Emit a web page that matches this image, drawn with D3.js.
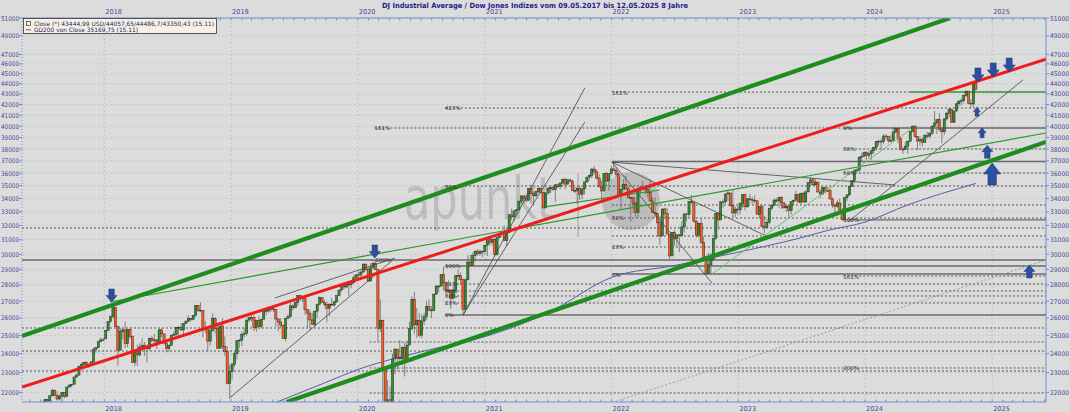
<!DOCTYPE html>
<html><head><meta charset="utf-8">
<script src="https://cdn.jsdelivr.net/npm/d3@7"></script>
<style>body{margin:0;background:#dcdcdc;}svg{display:block;}</style>
</head><body><svg id="c" width="1070" height="412"></svg>
<script>
// ---------------- DATA ----------------
const titleText = "DJ Industrial Average / Dow Jones Indizes vom 09.05.2017 bis 12.05.2025 8 Jahre";
const legendClose = "Close (*) 43444,99 USD/44057,65/44486,7/43350,43 (15.11)";
const legendGD = "GD200 von Close 35169,75 (15.11)";
const firstWeek = "2017-05-12";
const weekClose = [
20897,20804,21080,21206,21272,21384,21395,21350,21414,21638,21580,21830,22092,21858,21675,21814,21988,21798,22268,22350,22405,22773,22871,23329,23434,23539,23422,23358,23558,24231,24329,24652,24754,24719,
25296,25803,26072,26617,25521,24191,25219,25310,24538,25336,24947,23533,24103,23933,24360,24463,24311,24263,24831,24715,24753,24635,25317,25090,24581,24271,24456,25019,25058,25451,25463,25313,25669,25790,25965,25917,26155,26744,26458,26447,25340,25444,24688,25271,25989,25413,24285,25538,24389,24101,22445,23062,
23433,23996,24706,24737,25064,25106,25883,26031,26026,25450,25849,25502,25929,26425,26412,26560,26543,26505,25942,25764,25586,24815,25984,26090,26719,26600,26922,27332,27154,27192,26485,26287,25886,25629,26403,26797,27220,26935,26820,26573,26817,26770,26958,27347,27681,28005,27876,28051,28015,28135,28455,28645,
28635,28824,29348,28990,28256,29103,29398,28992,25409,25865,23186,19174,21637,21053,23719,24242,23775,23724,24331,23685,24465,25383,27111,25605,25871,25016,25827,26075,26672,26470,26428,27433,27931,27930,28654,28133,27666,27657,27174,27683,28587,28606,28336,26502,28323,29480,29263,29910,30218,30046,30179,30200,30606,
31098,30814,30997,29983,31148,31458,31494,30932,31496,32779,32628,33073,33153,33800,34201,34043,33875,34778,34382,34208,34529,34756,34480,33290,34434,34786,34870,34688,35062,34935,35209,35515,35120,35456,35369,34608,34585,34798,34326,34746,35295,35677,35820,36328,36100,35602,34899,34580,35971,35365,35951,36338,
36232,35912,34265,34725,35089,34738,34079,34059,33615,32945,34755,34862,34818,34721,34451,33811,32977,32899,32197,31262,33213,32900,31393,29888,31501,31097,31338,31288,31899,32845,32803,33761,33707,32283,31318,32152,30822,29590,28726,29297,29635,31083,32862,32403,33748,33746,34347,34430,33477,32920,33204,33147,
33631,34303,33375,33978,33926,33870,33827,32817,33391,31910,31862,32238,33274,33485,33886,33809,34098,33674,33301,33427,33093,33763,33877,34299,33727,34408,33735,34509,35228,35460,35066,35281,34501,34347,34838,34577,34618,33964,33508,33408,33670,33127,32418,34061,34283,34947,35390,36246,36248,37306,37385,37690,
37466,37593,37864,38109,38654,38672,38628,39131,39087,38723,38715,39476,39807,38904,37983,37986,38240,38676,39513,40004,39070,38686,38799,38589,39150,39119,39376,40001,40288,40590,39737,39498,40660,41175,41563,40345,41394,42063,42313,42353,42864,43276,42114,42052,43989,43445];
const weekOpen = [
21010,20897,20804,21080,21206,21272,21384,21395,21350,21414,21638,21580,21830,22092,21858,21675,21814,21988,21798,22268,22350,22405,22773,22871,23329,23434,23539,23422,23358,23558,24231,24329,24652,24754,
24809,25296,25803,26072,26617,25521,24191,25219,25310,24538,25336,24947,23533,24103,23933,24360,24463,24311,24263,24831,24715,24753,24635,25317,25090,24581,24271,24456,25019,25058,25451,25463,25313,25669,25790,25965,25917,26155,26744,26458,26447,25340,25444,24688,25271,25989,25413,24285,25538,24389,24101,22445,
23062,23433,23996,24706,24737,25064,25106,25883,26031,26026,25450,25849,25502,25929,26425,26412,26560,26543,26505,25942,25764,25586,24815,25984,26090,26719,26600,26922,27332,27154,27192,26485,26287,25886,25629,26403,26797,27220,26935,26820,26573,26817,26770,26958,27347,27681,28005,27876,28051,28015,28135,28455,
28645,28635,28824,29348,28990,28256,29103,29398,28992,25409,25865,23186,19174,21637,21053,23719,24242,23775,23724,24331,23685,24465,25383,27111,25605,25871,25016,25827,26075,26672,26470,26428,27433,27931,27930,28654,28133,27666,27657,27174,27683,28587,28606,28336,26502,28323,29480,29263,29910,30218,30046,30179,30200,
30606,31098,30814,30997,29983,31148,31458,31494,30932,31496,32779,32628,33073,33153,33800,34201,34043,33875,34778,34382,34208,34529,34756,34480,33290,34434,34786,34870,34688,35062,34935,35209,35515,35120,35456,35369,34608,34585,34798,34326,34746,35295,35677,35820,36328,36100,35602,34899,34580,35971,35365,35951,
36338,36232,35912,34265,34725,35089,34738,34079,34059,33615,32945,34755,34862,34818,34721,34451,33811,32977,32899,32197,31262,33213,32900,31393,29888,31501,31097,31338,31288,31899,32845,32803,33761,33707,32283,31318,32152,30822,29590,28726,29297,29635,31083,32862,32403,33748,33746,34347,34430,33477,32920,33204,
33147,33631,34303,33375,33978,33926,33870,33827,32817,33391,31910,31862,32238,33274,33485,33886,33809,34098,33674,33301,33427,33093,33763,33877,34299,33727,34408,33735,34509,35228,35460,35066,35281,34501,34347,34838,34577,34618,33964,33508,33408,33670,33127,32418,34061,34283,34947,35390,36246,36248,37306,37385,
37690,37466,37593,37864,38109,38654,38672,38628,39131,39087,38723,38715,39476,39807,38904,37983,37986,38240,38676,39513,40004,39070,38686,38799,38589,39150,39119,39376,40001,40288,40590,39737,39498,40660,41175,41563,40345,41394,42063,42313,42353,42864,43276,42114,42052,44058];
const weekHigh = [
21050,20990,21112,21225,21305,21392,21535,21500,21560,21681,21681,21860,22180,22180,22070,21900,22010,22000,22270,22420,22420,22790,22920,23370,23490,23560,23600,23500,23600,24330,24350,24690,24880,24870,
25300,25810,26150,26620,26620,25520,25430,25430,25800,25350,25450,25000,24250,24500,24570,24860,24630,24500,24880,24960,25090,24790,25400,25400,25110,24650,24500,25030,25220,25500,25520,25700,25700,25880,26170,26000,26180,26770,26770,26950,26470,25800,25450,25500,26280,26050,25500,25540,25980,24950,24400,23400,
23500,24100,24750,24800,25250,25450,25900,26050,26240,26150,25900,26110,25950,26430,26480,26700,26700,26700,26500,26000,26000,25600,26000,26200,26900,26800,26970,27340,27400,27200,27300,26500,26500,26300,26400,26860,27300,27250,27100,26950,26900,27200,27000,27350,27700,28020,28100,28170,28120,28300,28600,28700,
28870,28990,29370,29370,29130,29400,29560,29570,29000,27100,25900,23200,22600,22300,24000,24300,24250,24760,24400,24600,24700,25800,27300,27580,26600,26300,26200,26300,27000,27100,26700,27450,28000,28000,28660,29200,28200,28300,27700,28000,28600,29000,28800,28400,28400,29930,29950,30120,30220,30320,30330,30250,30640,
31200,31200,31270,31100,31200,31480,31650,32000,31800,32850,33230,33100,33200,33850,34260,34260,34250,34810,35090,34550,34630,34850,34850,34500,34470,34800,34900,35000,35100,35170,35250,35530,35630,35500,35560,35450,34900,34900,35000,34800,35300,35700,35900,36430,36570,36300,35900,35400,36000,36100,35970,36600,
36950,36500,36100,34700,35500,35800,34990,34100,34100,33800,34800,35000,35370,34900,34800,35500,34100,34100,32900,32700,33220,33300,33300,31400,31550,31700,31400,31400,32300,32900,32900,33800,34280,33700,32400,32200,32500,31200,29900,30100,30100,31100,32900,33000,33800,33950,34400,34600,34450,34700,33400,33400,
33700,34350,34350,34000,34350,34150,34250,33900,33400,33600,32700,32500,33300,33600,34000,34000,34100,34200,33700,33600,33500,33800,33900,34600,34300,34450,34500,34650,35300,35680,35600,35500,35300,34700,34900,34900,34900,34800,34100,33600,33900,34000,33300,34100,34300,35000,35400,36300,36300,37400,37650,37800,
37800,37800,37900,38200,38700,38800,38900,39280,39300,39100,39200,39900,39900,39900,39100,38200,38600,38700,39550,40080,40100,39100,39100,39000,39300,39500,39500,40100,41380,40600,41200,39800,40700,41300,41600,41600,41400,42150,42400,42600,42900,43330,43300,42500,44000,44487];
const weekLow = [
20880,20550,20800,20970,21110,21160,21330,21200,21320,21350,21530,21560,21800,21820,21600,21600,21600,21700,21800,22220,22250,22400,22740,22850,23200,23340,23250,23240,23350,23520,24050,24300,24650,24690,
24800,25230,25720,25950,25500,23360,24190,24800,24300,24340,24820,23510,23340,23340,23840,24320,23890,23530,24160,24600,24450,24250,24630,24900,24500,24080,24100,24440,24980,24940,25010,25250,25070,25640,25780,25800,25860,26060,26350,26350,24900,25150,24120,24450,25200,25100,24270,24280,24240,23880,22400,21710,
22640,23300,23700,24300,24400,24900,25000,25750,25800,25250,25200,25500,25400,25950,26150,26300,26350,26350,25500,25220,25400,24800,24680,25950,26000,26450,26650,26700,27000,26950,26200,25440,25340,25600,25500,26000,26800,26900,26700,25740,26100,26700,26650,26900,27300,27600,27700,27800,27320,27800,28100,28400,
28400,28400,28800,28900,28200,28200,29000,28960,24680,25200,21150,19000,18210,20700,21000,22900,23100,23600,23400,22800,23700,24500,25300,25100,24850,24900,24850,25600,25900,26400,26000,26400,27400,27550,27900,27650,27400,27500,26540,27100,27500,28300,28000,26140,26500,28400,29200,29300,29500,29900,29900,29800,30000,
29880,30600,30600,29850,29900,31100,31200,30900,30550,31450,32400,32300,32800,33150,33600,33600,33700,33800,33600,33470,34100,34400,34400,33270,33270,34300,34400,34600,33740,34800,34700,35100,34700,35100,35200,34600,34400,33600,33900,33950,34300,35200,35400,35600,35900,35500,34900,33900,34800,35000,34600,35900,
36200,35700,34200,33150,34700,34700,34000,32270,32900,32630,32600,34300,34600,34300,34100,33800,32900,32600,31230,30640,31250,32600,31390,29650,29900,30600,30550,30150,31200,31500,32300,32600,33600,32200,31150,31150,30700,29500,28700,28700,28660,29700,31000,31700,32400,33300,33600,33800,33400,32600,32600,32800,
32800,33300,33100,33300,33600,33600,33650,32800,32500,31900,31430,31800,32100,33100,33400,33700,33300,33200,33200,33000,32600,32800,33500,33800,33700,33600,33700,33700,34500,35000,35000,35000,34500,34000,34300,34400,34500,33950,33300,32850,33300,33100,32330,32400,33800,34200,34900,35200,36000,36100,37000,37300,
37100,37200,37100,37600,37900,38300,37950,38400,38800,38500,38600,38700,39400,38500,37900,37600,37900,37600,38600,39500,39000,37900,38300,38200,38500,38900,38900,39200,39900,39300,39600,38500,39200,40500,40800,40300,40300,41300,41800,41900,42100,42700,42000,41700,41800,43350];
const gd200Dates = ["2019-05-06","2019-10-01","2020-01-06","2020-07-01","2021-01-04","2021-07-01","2022-01-03","2022-07-01","2023-01-02","2023-07-03","2023-09-15","2024-01-01","2024-05-01","2024-11-15"];
const gd200Values = [21480,22500,23190,24100,24950,26300,28500,29250,30150,31150,31650,32250,33500,35170];
const yearLabels = ["2018","2019","2020","2021","2022","2023","2024","2025"];
const priceTicks = [22000,23000,24000,25000,26000,27000,28000,29000,30000,31000,32000,33000,34000,35000,36000,37000,38000,39000,40000,41000,42000,43000,44000,45000,46000,47000,49000,51000];
// horizontal levels: value, from, to, kind
const levelValue = [43190,43190,41667,39837,39837,38005,36950,36009,34971,33511,32547,32403,31823,31257,30495,29617,29221,28700,28570,28064,27626,27317,26891,26176,25423,24635,24142,23239,23082,21969];
const levelFrom  = ["2022-01-02","2024-05-09","2020-09-08","2020-02-18","2023-10-30","2023-10-30","2022-01-02","2023-10-30","2020-09-08","2022-01-02","2022-01-02","2023-10-30","2017-05-09","2022-01-02","2022-01-02","2017-05-09","2020-09-08","2022-01-02","2023-10-30","2020-09-08","2020-09-08","2020-09-08","2020-09-08","2020-09-08","2017-05-09","2020-02-04","2017-05-09","2020-02-04","2017-05-09","2020-02-04"];
const levelTo    = ["2024-05-09","2025-06-05","2025-06-05","2023-10-30","2025-06-05","2025-06-05","2025-06-05","2025-06-05","2025-06-05","2025-06-05","2025-06-05","2025-06-05","2025-06-05","2025-06-05","2025-06-05","2025-06-05","2025-06-05","2025-06-05","2025-06-05","2025-06-05","2025-06-05","2025-06-05","2025-06-05","2025-06-05","2025-06-05","2025-06-05","2025-06-05","2025-06-05","2025-06-05","2025-06-05"];
const levelKind  = ["dot","green","dot","dot","solid","dot","solid","dot","dot","dot","dot","solid","dot","dot","dot","solid","solid","solid","dot","dot","dot","dot","dot","solid","dot","dot","dot","dot","dot","dot"];
// trend lines
const trendFromDate = ["2017-05-09","2019-06-10","2017-05-09","2018-01-17","2021-06-23","2022-10-17","2022-01-02","2018-12-28","2019-05-07","2020-10-30","2020-10-30","2022-01-02","2022-01-02","2022-01-02","2023-11-13"];
const trendFromVal  = [24970,21530,22268,26951,33363,28700,21500,21724,27195,26176,26176,36896,36896,36896,32256];
const trendToDate   = ["2024-09-02","2025-06-05","2025-06-05","2025-06-05","2022-05-20","2024-05-09","2025-06-05","2020-04-11","2020-04-17","2021-10-16","2021-10-16","2023-03-28","2022-10-17","2024-03-28","2025-03-31"];
const trendToVal    = [51000,38614,46503,39393,34659,39667,29617,29617,29750,43600,40384,31186,28127,35049,44388];
const trendKind     = ["thickGreen","thickGreen","red","green","green","lightGreen","dottedGreen","grey","grey","grey","grey","grey","grey","grey","grey"];
// percent labels
const pctText  = ["161%","423%","161%","0%","38%","50%","38%","50%","100%","23%","100%","100%","0%","161%","61%","50%","38%","23%","0%","200%"];
const pctDate  = ["2022-01-02","2020-09-08","2020-02-18","2023-10-30","2023-10-30","2023-10-30","2020-09-08","2022-01-02","2023-10-30","2022-01-02","2020-02-20","2020-09-08","2022-01-02","2023-10-30","2020-09-08","2020-09-08","2020-09-08","2020-09-08","2020-09-08","2023-10-30"];
const pctValue = [43190,41667,39837,39837,38005,36009,34971,32547,32403,30495,29617,29221,28700,28570,28064,27626,27317,26891,26176,23239];
// arrows
const arrowDate  = ["2018-01-22","2020-02-19","2024-11-21","2025-01-04","2025-02-19","2024-11-18","2024-12-03","2024-12-18","2025-01-01","2025-04-18"];
const arrowValue = [26951,29750,44178,44675,45177,41742,39850,38321,36825,29288];
const arrowDir   = ["down","down","down","down","down","up","up","up","up","up"];

// ---------------- STYLE ----------------
const arrowSize = [[11,13],[11,13],[12,14],[12,14],[12,14],[7,9],[8,10],[11,13],[17,22],[11,13]];
const L=22,R=1046,T=18,B=402;
const axisBlue="#6f8fd2", labelBlue="#4a4a9c";
const parse=d3.utcParse("%Y-%m-%d");
const x=d3.scaleUtc().domain([parse("2017-05-09"),parse("2025-06-05")]).range([L,R]);
const y=d3.scaleLog().domain([21530,51000]).range([B,T]);
const svg=d3.select("#c");
svg.append("rect").attr("width",1070).attr("height",412).attr("fill","#dcdcdc");
svg.append("defs").append("clipPath").attr("id","pc").append("rect").attr("x",L).attr("y",T).attr("width",R-L).attr("height",B-T);

// grid
const grid=svg.append("g");
grid.selectAll("line.h").data(priceTicks).join("line").attr("x1",L).attr("x2",R)
 .attr("y1",d=>y(d)).attr("y2",d=>y(d)).attr("stroke","#c3c3c3").attr("stroke-dasharray","2,2").attr("stroke-width",0.8);
grid.selectAll("line.v").data(yearLabels).join("line").attr("y1",T).attr("y2",B)
 .attr("x1",d=>x(parse(d+"-01-01"))).attr("x2",d=>x(parse(d+"-01-01"))).attr("stroke","#bdbdbd").attr("stroke-dasharray","2,2").attr("stroke-width",0.8);

const plot=svg.append("g").attr("clip-path","url(#pc)");

// watermark
const wm=plot.append("g").attr("opacity",0.3).attr("fill","#777");
wm.append("text").attr("x",404).attr("y",219).attr("font-family","DejaVu Sans").attr("font-size",58)
  .attr("textLength",150).attr("lengthAdjust","spacingAndGlyphs").text("apunkt");
wm.append("rect").attr("x",577).attr("y",173).attr("width",2).attr("height",64);
wm.append("circle").attr("cx",631).attr("cy",201).attr("r",29);

// levels
const lv=plot.append("g");
levelValue.forEach((v,i)=>{
  const k=levelKind[i];
  lv.append("line").attr("x1",x(parse(levelFrom[i]))).attr("x2",x(parse(levelTo[i])))
   .attr("y1",y(v)).attr("y2",y(v))
   .attr("stroke",k==="green"?"#2f9a2f":(k==="solid"?"#6a6a6a":"#555"))
   .attr("stroke-width",k==="dot"?1:1.3)
   .attr("stroke-dasharray",k==="dot"?"2,2":null);
});

// GD200
plot.append("path").datum(gd200Dates.map((d,i)=>[parse(d),gd200Values[i]]))
 .attr("d",d3.line().x(d=>x(d[0])).y(d=>y(d[1])).curve(d3.curveMonotoneX))
 .attr("fill","none").attr("stroke","#5a5aa8").attr("stroke-width",1);

// candles
const start=parse(firstWeek);
const cg=plot.append("g");
weekClose.forEach((c,i)=>{
  const cx=x(d3.utcDay.offset(start,7*i));
  const o=weekOpen[i];
  cg.append("line").attr("x1",cx).attr("x2",cx).attr("y1",y(weekHigh[i])).attr("y2",y(weekLow[i]))
    .attr("stroke","#6a6a6a").attr("stroke-width",0.8);
  const y0=y(Math.max(o,c)), y1=y(Math.min(o,c));
  cg.append("rect").attr("x",cx-1.1).attr("y",y0).attr("width",2.2).attr("height",Math.max(0.8,y1-y0))
    .attr("fill",c>=o?"#2f8f2f":"#ff5a1f").attr("stroke","#222").attr("stroke-width",0.45);
});

// trend lines
const tStyle={thickGreen:["#1e8c1e",4.2,null],red:["#ee1c1c",3,null],green:["#2a9a2a",1.2,null],
  lightGreen:["#6cbf6c",1,null],dottedGreen:["#6cbf6c",1,"2,2"],grey:["#444",0.8,null]};
const order=["grey","green","lightGreen","dottedGreen","red","thickGreen"];
order.forEach(kind=>{
  trendKind.forEach((k,i)=>{
    if(k!==kind)return;
    const s=tStyle[k];
    plot.append("line").attr("x1",x(parse(trendFromDate[i]))).attr("y1",y(trendFromVal[i]))
      .attr("x2",x(parse(trendToDate[i]))).attr("y2",y(trendToVal[i]))
      .attr("stroke",s[0]).attr("stroke-width",s[1]).attr("stroke-dasharray",s[2]);
  });
});

// percent labels
pctText.forEach((t,i)=>{
  plot.append("text").attr("x",x(parse(pctDate[i]))).attr("y",y(pctValue[i])+2.5)
    .attr("font-family","DejaVu Sans").attr("font-size",5.5).attr("fill","#333").text(t);
});

// arrows
arrowDate.forEach((d,i)=>{
  const cx=x(parse(d)), ty=y(arrowValue[i]);
  const [w,h]=arrowSize[i]; const hh=h*0.5, sw=w*0.5;
  const s=arrowDir[i]==="down"?-1:1;
  const pts=[[cx,ty],[cx+w/2,ty+s*hh],[cx+sw/2,ty+s*hh],[cx+sw/2,ty+s*h],[cx-sw/2,ty+s*h],[cx-sw/2,ty+s*hh],[cx-w/2,ty+s*hh]];
  svg.append("polygon").attr("points",pts.map(p=>p.join(",")).join(" "))
    .attr("fill","#2c4f9e").attr("stroke","#1c3577").attr("stroke-width",0.5);
});

// axes
const ax=svg.append("g");
ax.append("line").attr("x1",L).attr("x2",R).attr("y1",T).attr("y2",T).attr("stroke",axisBlue);
ax.append("line").attr("x1",L).attr("x2",R).attr("y1",B).attr("y2",B).attr("stroke",axisBlue);
ax.append("line").attr("x1",R).attr("x2",R).attr("y1",T).attr("y2",B).attr("stroke",axisBlue);
ax.append("line").attr("x1",L).attr("x2",L).attr("y1",T).attr("y2",B).attr("stroke",axisBlue).attr("stroke-dasharray","1,2");
const months=d3.utcMonth.range(parse("2017-06-01"),parse("2025-06-05"));
ax.selectAll("line.mt").data(months).join("line").attr("x1",d=>x(d)).attr("x2",d=>x(d))
  .attr("y1",T).attr("y2",T+2.5).attr("stroke",axisBlue);
ax.selectAll("line.mb").data(months).join("line").attr("x1",d=>x(d)).attr("x2",d=>x(d))
  .attr("y1",B).attr("y2",B-2.5).attr("stroke",axisBlue);
priceTicks.forEach(v=>{
  ax.append("line").attr("x1",R).attr("x2",R+3).attr("y1",y(v)).attr("y2",y(v)).attr("stroke",axisBlue);
  ax.append("line").attr("x1",L-3).attr("x2",L).attr("y1",y(v)).attr("y2",y(v)).attr("stroke",axisBlue);
  ax.append("text").attr("x",R+4).attr("y",y(v)+2.5).attr("font-family","DejaVu Sans").attr("font-size",6.4)
    .attr("textLength",19).attr("lengthAdjust","spacingAndGlyphs").attr("fill",labelBlue).text(v);
  ax.append("text").attr("x",1).attr("y",y(v)+2.5).attr("font-family","DejaVu Sans").attr("font-size",6.4)
    .attr("textLength",18).attr("lengthAdjust","spacingAndGlyphs").attr("fill",labelBlue).text(v);
});
yearLabels.forEach(yr=>{
  const xx=x(parse(yr+"-01-01"));
  ax.append("text").attr("x",xx+1).attr("y",14).attr("font-family","DejaVu Sans").attr("font-size",6.6).attr("fill",labelBlue).text(yr);
  ax.append("text").attr("x",xx+1).attr("y",410.5).attr("font-family","DejaVu Sans").attr("font-size",6.6).attr("fill",labelBlue).text(yr);
});
// title
svg.append("text").attr("x",382).attr("y",7.5).attr("font-family","DejaVu Sans").attr("font-weight","bold")
 .attr("font-size",7.2).attr("fill","#1e1e8c").attr("textLength",306).attr("lengthAdjust","spacingAndGlyphs").text(titleText);
// legend
const lg=svg.append("g");
lg.append("rect").attr("x",23.5).attr("y",18.5).attr("width",193).attr("height",15).attr("fill","#f6f1e2").attr("stroke","#333").attr("stroke-width",0.8);
lg.append("rect").attr("x",26.5).attr("y",21.5).attr("width",4).attr("height",4).attr("fill","none").attr("stroke","#333").attr("stroke-width",0.7);
lg.append("line").attr("x1",26).attr("x2",31).attr("y1",29.8).attr("y2",29.8).attr("stroke","#5a5aa8").attr("stroke-width",1);
lg.append("text").attr("x",34).attr("y",26).attr("font-family","DejaVu Sans").attr("font-size",6).attr("fill","#1e1e6e")
  .attr("textLength",180).attr("lengthAdjust","spacingAndGlyphs").text(legendClose);
lg.append("text").attr("x",34).attr("y",32).attr("font-family","DejaVu Sans").attr("font-size",6).attr("fill","#1e1e6e")
  .attr("textLength",104).attr("lengthAdjust","spacingAndGlyphs").text(legendGD);
</script></body></html>
